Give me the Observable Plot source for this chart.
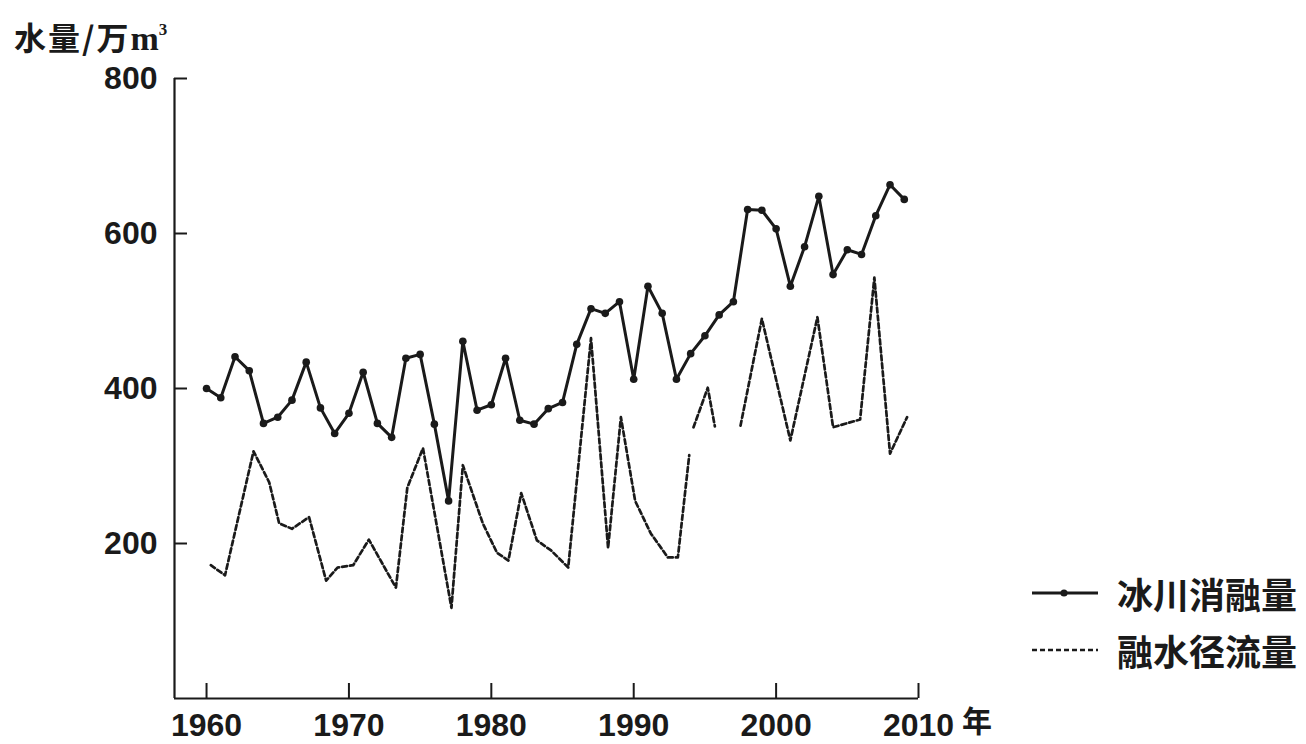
<!DOCTYPE html>
<html>
<head>
<meta charset="utf-8">
<script src="https://cdn.jsdelivr.net/npm/d3@7"></script>
<script src="https://cdn.jsdelivr.net/npm/@observablehq/plot@0.6"></script>
<style>
  html, body { margin: 0; padding: 0; background: #fff; }
  #wrap { position: relative; width: 1306px; height: 744px; overflow: hidden; }
  .ov { position: absolute; color: #1a1a1a; white-space: nowrap; line-height: 1; }
  .cjk { font-family: "Noto Sans CJK SC", sans-serif; font-weight: 700; }
  #ylabel { left: 14px; top: 20px; font-size: 32px; letter-spacing: 2px; }
  #ylabel .unit { font-family: "Liberation Serif", serif; font-weight: 700; font-size: 34px; letter-spacing: 0; }
  #ylabel sup { font-size: 17px; vertical-align: 15px; }
  #nian { left: 962px; top: 704px; font-size: 30px; }
  .leg { left: 1030px; height: 40px; display: flex; align-items: center; }
  .leg svg { width: 70px; height: 20px; margin-right: 17px; }
  .leg span { font-size: 36px; }
  #chart svg text { font-family: "Liberation Sans", Arial, sans-serif; font-weight: 700; }
</style>
</head>
<body>
<div id="wrap">
  <div id="chart"></div>
  <div id="ylabel" class="ov cjk">水量/万<span class="unit">m<sup>3</sup></span></div>
  <div id="nian" class="ov cjk">年</div>
  <div class="ov leg" style="top:573px">
    <svg viewBox="0 0 70 20"><line x1="2" y1="10" x2="68" y2="10" stroke="#1a1a1a" stroke-width="2.8"/><circle cx="34" cy="10" r="3.6" fill="#1a1a1a"/></svg>
    <span class="cjk">冰川消融量</span>
  </div>
  <div class="ov leg" style="top:630px">
    <svg viewBox="0 0 70 20"><line x1="2" y1="10" x2="68" y2="10" stroke="#1a1a1a" stroke-width="2.6" stroke-dasharray="5,3"/></svg>
    <span class="cjk">融水径流量</span>
  </div>
</div>
<script>
// 冰川消融量 (solid line with dots), one value per year
const meltYears = [1960,1961,1962,1963,1964,1965,1966,1967,1968,1969,
                   1970,1971,1972,1973,1974,1975,1976,1977,1978,1979,
                   1980,1981,1982,1983,1984,1985,1986,1987,1988,1989,
                   1990,1991,1992,1993,1994,1995,1996,1997,1998,1999,
                   2000,2001,2002,2003,2004,2005,2006,2007,2008,2009];
const meltValues = [400,388,441,423,355,363,385,434,375,342,
                    368,421,355,337,439,444,354,255,461,372,
                    379,439,359,354,374,382,457,503,497,512,
                    412,532,497,412,445,468,495,512,631,630,
                    606,532,583,648,547,579,573,623,663,644];

// 融水径流量 (dashed line), positions; null = break in the line
const runoffYears = [1960.3,1961.3,1963.3,1964.4,1965.1,1966.0,1967.2,1968.4,1969.2,1970.3,
                     1971.4,1973.3,1974.1,1975.2,1977.2,1978.0,1979.4,1980.4,1981.2,1982.1,
                     1983.2,1984.2,1985.4,1987.0,1988.2,1989.1,1990.1,1991.2,1992.4,1993.1,
                     1993.9,1994.0,1994.2,1995.2,1995.7,1996.5,1997.5,1999.0,2001.0,2002.9,
                     2004.0,2005.9,2006.9,2008.0,2009.2];
const runoffValues = [172,159,319,279,226,219,234,152,169,172,
                      205,143,272,323,117,301,226,188,178,265,
                      204,191,169,465,194,363,255,213,182,182,
                      314,null,350,401,351,null,352,490,333,492,
                      350,360,543,316,363];

const xTicks = [1960,1970,1980,1990,2000,2010];
const yTicks = [200,400,600,800];

const melt = meltYears.map((year, i) => ({year, value: meltValues[i]}));
const runoff = runoffYears.map((year, i) => ({year, value: runoffValues[i]}));

const W = 1306, H = 744;
const mL = 174, mR = 388, mT = 78, mB = 46;
const plotW = W - mL - mR, plotH = H - mT - mB;

const ink = "#1a1a1a";

const chart = Plot.plot({
  width: W, height: H,
  marginLeft: mL, marginRight: mR, marginTop: mT, marginBottom: mB,
  style: {fontFamily: "Liberation Sans, Arial, sans-serif", fontSize: "32px", fontWeight: "bold", color: ink, background: "#fff"},
  x: {domain: [1957.75, 2010], label: null},
  y: {domain: [0, 800], label: null},
  marks: [
    Plot.axisX(xTicks, {tickSize: 0, tickPadding: 15, tickFormat: d => String(d), fontSize: 32, fill: ink}),
    Plot.axisY(yTicks, {tickSize: 0, tickPadding: 17, tickFormat: d => String(d), fontSize: 32, fill: ink}),
    Plot.tickX(xTicks, {x: d => d, insetTop: plotH - 15, stroke: ink, strokeWidth: 2}),
    Plot.tickY(yTicks, {y: d => d, insetRight: plotW - 13, stroke: ink, strokeWidth: 2}),
    Plot.ruleY([0], {stroke: ink, strokeWidth: 2.2}),
    Plot.ruleX([1957.75], {stroke: ink, strokeWidth: 2.2}),
    Plot.line(runoff, {x: "year", y: "value", stroke: ink, strokeWidth: 2.7, strokeDasharray: "5,3", curve: "linear"}),
    Plot.line(melt, {x: "year", y: "value", stroke: ink, strokeWidth: 3, curve: "linear"}),
    Plot.dot(melt, {x: "year", y: "value", r: 3.8, fill: ink, stroke: "none"})
  ]
});
document.getElementById("chart").appendChild(chart);
</script>
</body>
</html>
